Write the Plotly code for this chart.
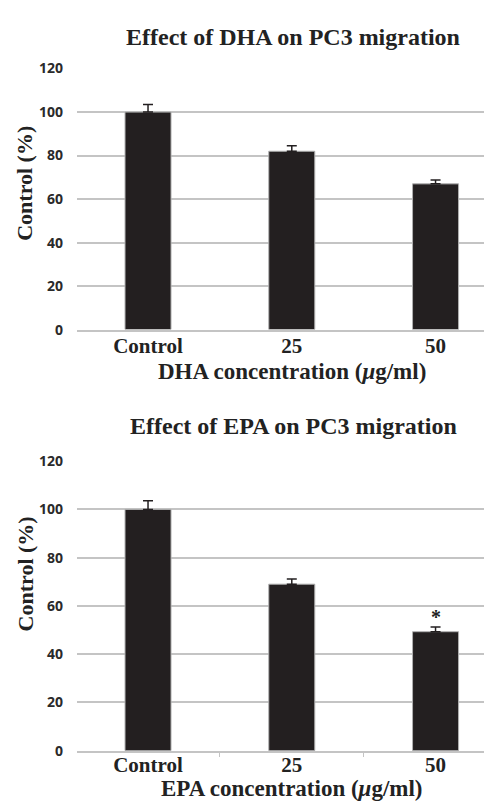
import plotly.graph_objects as go

categories = ["Control", "25", "50"]
dha_values = [100, 82, 67]
dha_errors = [3.5, 2.5, 1.8]
epa_values = [100, 69, 49.3]
epa_errors = [3.6, 2.2, 2.0]
y_ticks = [0, 20, 40, 60, 80, 100, 120]

W, H = 484, 808
BAR = "#231f20"
GRID = "#c4c4c4"
serif = "Liberation Serif"

def py(px):
    return 1 - px / H

fig = go.Figure()
fig.add_trace(go.Bar(x=categories, y=dha_values, width=0.32,
                     marker=dict(color=BAR, line=dict(color="#b0b0b0", width=1)),
                     error_y=dict(type="data", array=dha_errors, symmetric=False,
                                  arrayminus=[0, 0, 0], color=BAR, thickness=1.5, width=5),
                     xaxis="x", yaxis="y"))
fig.add_trace(go.Bar(x=categories, y=epa_values, width=0.32,
                     marker=dict(color=BAR, line=dict(color="#b0b0b0", width=1)),
                     error_y=dict(type="data", array=epa_errors, symmetric=False,
                                  arrayminus=[0, 0, 0], color=BAR, thickness=1.5, width=5),
                     xaxis="x2", yaxis="y2"))

xdom = [77 / W, 1]
xr = [-0.494, 2.337]
xcommon = dict(type="category", range=xr, domain=xdom, showgrid=False, showline=True,
               linecolor=GRID, linewidth=2, tickfont=dict(family=serif, size=21, color="#222"),
               tickprefix="<b>", ticksuffix="</b>", fixedrange=True)
ycommon = dict(range=[0, 120], tickvals=y_ticks, showgrid=True, gridcolor=GRID, gridwidth=2,
               showline=False, zeroline=False, ticklabelstandoff=13,
               tickfont=dict(family="Open Sans", size=14, color="#2a2a2a", weight="bold"))

fig.update_layout(
    width=W, height=H, margin=dict(l=0, r=0, t=0, b=0),
    paper_bgcolor="white", plot_bgcolor="white", showlegend=False,
    xaxis=dict(**xcommon, anchor="y", ticks="", ticklabelstandoff=-4),
    yaxis=dict(**ycommon, domain=[py(327.3), py(60)], anchor="x"),
    xaxis2=dict(**xcommon, anchor="y2", ticks="outside", tickson="boundaries",
                ticklen=4, tickcolor=GRID, tickwidth=1, ticklabelstandoff=-6),
    yaxis2=dict(**ycommon, domain=[py(758.5), py(462)], anchor="x2"),
)

def ann(text, x, y, size, angle=0):
    fig.add_annotation(text=text, x=x / W, y=py(y), xref="paper", yref="paper",
                       showarrow=False, textangle=angle, xanchor="center", yanchor="middle",
                       font=dict(family=serif, size=size, color="#222"))

ann("<b>Effect of DHA on PC3 migration</b>", 293, 28, 24)
ann("<b>Effect of EPA on PC3 migration</b>", 293, 426, 24)
ann("<b>DHA concentration (<i>μ</i>g/ml)</b>", 292, 370, 23)
ann("<b>EPA concentration (<i>μ</i>g/ml)</b>", 292, 797, 23)
ann("<b>Control (%)</b>", 25, 178, 22, -90)
ann("<b>Control (%)</b>", 25, 578, 22, -90)

fig.add_annotation(text="<b>*</b>", x=2, y=55.4, xref="x2", yref="y2", showarrow=False,
                   yanchor="middle", font=dict(family=serif, size=20, color="#222"))

fig.write_html("out.html")
